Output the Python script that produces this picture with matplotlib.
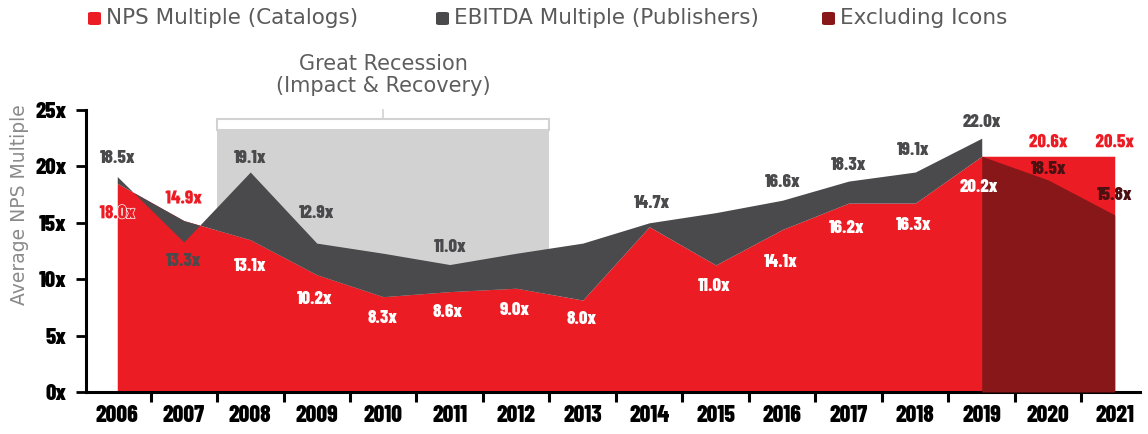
import numpy as np
import matplotlib.pyplot as plt
import matplotlib.patheffects as pe
from matplotlib.patches import Rectangle, FancyBboxPatch

# ---- data ----
years = list(range(2006, 2022))

# drawn heights of the areas
nps_multiple = [18.5, 15.2, 13.5, 10.4, 8.45, 8.9, 9.2, 8.15, 14.65, 11.26,
                14.4, 16.75, 16.75, 20.9, 20.9, 20.9]
ebitda_multiple = [19.1, 13.3, 19.5, 13.2, 12.3, 11.3, 12.3, 13.2, 15.0, 15.9,
                   17.0, 18.7, 19.5, 22.5]          # 2006-2019
excl_icons = [20.9, 18.8, 15.7]                      # 2019-2021

# printed labels
ebitda_label_years = [2006, 2007, 2008, 2009, 2011, 2014, 2016, 2017, 2018, 2019]
ebitda_label_vals = [18.5, 13.3, 19.1, 12.9, 11.0, 14.7, 16.6, 18.3, 19.1, 22.0]
nps_label_years = [2006, 2007, 2008, 2009, 2010, 2011, 2012, 2013, 2015, 2016,
                   2017, 2018, 2019, 2020, 2021]
nps_label_vals = [18.0, 14.9, 13.1, 10.2, 8.3, 8.6, 9.0, 8.0, 11.0, 14.1,
                  16.2, 16.3, 20.2, 20.6, 20.5]
excl_label_years = [2020, 2021]
excl_label_vals = [18.5, 15.8]

recession_span = (2008, 2012)

# ---- styles ----
RED = '#ec1c24'
GRAY = '#4a4a4c'
DARKRED = '#871719'
BOX = '#d2d2d2'
COND = 'Barlow Condensed'

# pixel offsets for labels (dx, dy) relative to the drawn point
ebitda_off = [(0, 19), (0, -19), (0, 14), (0, 30), (0, 18), (3, 20), (0, 18), (0, 16), (-2, 22), (0, 16)]
nps_off = [(0, -30), (0, 22), (0, -26), (-2, -24), (-1, -21), (-2, -20), (-1, -22), (-1, -19),
           (-2, -21), (-1, -32), (-2, -25), (-2, -22), (-3, -31), (0, 14), (0, 14)]
nps_col = [RED, RED] + ['white'] * 11 + [RED, RED]
excl_off = [(0, 11), (0, 20)]

fig = plt.figure(figsize=(11.48, 4.34), dpi=100)
ax = fig.add_axes([86 / 1148, 42 / 434, (1140 - 86) / 1148, 282 / 434])

x = np.arange(len(years))
xi = {y: i for i, y in enumerate(years)}

# recession box
r0, r1 = xi[recession_span[0]] - 0.5, xi[recession_span[1]] + 0.5
ax.add_patch(Rectangle((r0, 0), r1 - r0, 23.2, facecolor=BOX, edgecolor='none', zorder=1))
ax.add_patch(Rectangle((r0, 23.2), r1 - r0, 1.0, facecolor='white', edgecolor=BOX,
                       lw=1.5, zorder=1, clip_on=False))
ax.plot([(r0 + r1) / 2] * 2, [24.2, 25.0], color=BOX, lw=1.2, clip_on=False)
ax.text((r0 + r1) / 2, 28.1, 'Great Recession\n(Impact & Recovery)', ha='center', va='center',
        fontsize=15, color='#5e5e5e', linespacing=1.15, clip_on=False)

# areas
ax.fill_between(x, 0, nps_multiple, color=RED, lw=0, zorder=2)
ne = len(ebitda_multiple)
ax.fill_between(x[:ne], nps_multiple[:ne], ebitda_multiple, color=GRAY, lw=0,
                interpolate=True, zorder=3)
ax.fill_between(x[ne - 1:], 0, excl_icons, color=DARKRED, lw=0, zorder=4)

# value labels
lbl = dict(ha='center', va='center', fontsize=13.5, fontweight=800, family=COND,
           textcoords='offset pixels', zorder=6)
for yr, v, (dx, dy) in zip(ebitda_label_years, ebitda_label_vals, ebitda_off):
    i = xi[yr]
    ax.annotate(f'{v:.1f}x', (i, ebitda_multiple[i]), xytext=(dx, dy), color=GRAY, **lbl)
for yr, v, (dx, dy), c in zip(nps_label_years, nps_label_vals, nps_off, nps_col):
    i = xi[yr]
    t = ax.annotate(f'{v:.1f}x', (i, nps_multiple[i]), xytext=(dx, dy), color=c, **lbl)
    if c == RED:
        t.set_path_effects([pe.withStroke(linewidth=1.0, foreground='white')])
for yr, v, (dx, dy) in zip(excl_label_years, excl_label_vals, excl_off):
    i = xi[yr]
    ax.annotate(f'{v:.1f}x', (i, excl_icons[i - ne + 1]), xytext=(dx, dy), color='#4a1012', **lbl)

# axes
ax.set_xlim(-0.47, 15.38)
ax.set_ylim(0, 25)
ax.set_xticks(x)
ax.set_xticklabels([str(y) for y in years], fontsize=17, fontweight=800, family=COND)
ax.set_xticks(np.arange(0.5, 15), minor=True)
ax.tick_params(axis='x', which='major', length=0, pad=9)
ax.tick_params(axis='x', which='minor', length=7, width=2.2, direction='out')
ax.set_yticks(np.arange(0, 26, 5))
ax.set_yticklabels([f'{v}x' for v in range(0, 26, 5)], fontsize=16.5, fontweight=800, family=COND)
ax.tick_params(axis='y', length=7, width=2, pad=7)
for s in ['top', 'right']:
    ax.spines[s].set_visible(False)
for s in ['left', 'bottom']:
    ax.spines[s].set_linewidth(2.2)
ax.set_facecolor('none')

fig.text(20 / 1148, 1 - 205 / 434, 'Average NPS Multiple', rotation=90, ha='center', va='center',
         fontsize=13.5, color='#8a8a8a')

# legend
legend_items = ['NPS Multiple (Catalogs)', 'EBITDA Multiple (Publishers)', 'Excluding Icons']
legend_cols = [RED, GRAY, DARKRED]
legend_x = [88, 436, 822]
for lx, txt, c in zip(legend_x, legend_items, legend_cols):
    fig.patches.append(FancyBboxPatch((lx / 1148, 1 - 25 / 434), 13 / 1148, 13 / 434,
                                      boxstyle='round,pad=0,rounding_size=0.003',
                                      facecolor=c, edgecolor='none', transform=fig.transFigure))
    fig.text((lx + 18) / 1148, 1 - 18 / 434, txt, ha='left', va='center',
             fontsize=15.5, color='#5a5a5a')

fig.savefig('out.png', dpi=100)
